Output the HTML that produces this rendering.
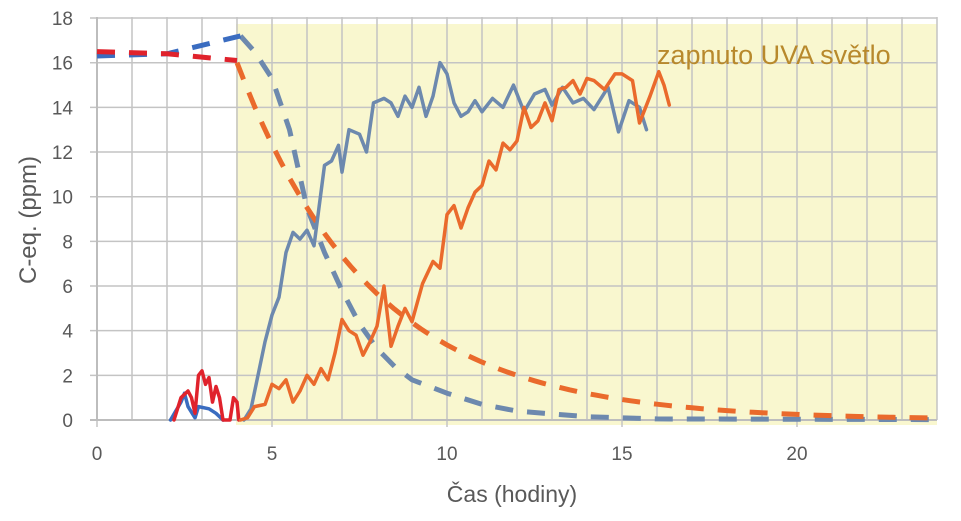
<!DOCTYPE html>
<html><head><meta charset="utf-8"><style>
html,body{margin:0;padding:0;background:#fff;width:961px;height:521px;overflow:hidden}
svg text{font-family:"Liberation Sans",sans-serif;fill:#595959}
</style></head><body>
<svg id="s" width="961" height="521" xmlns="http://www.w3.org/2000/svg">
<rect x="236" y="24" width="701" height="401" fill="#f9f7cf"/>
<g id="grid" stroke="#c4c4c4" stroke-width="1.5"></g>
<line x1="90" y1="420" x2="937" y2="420" stroke="#bdbdbd" stroke-width="2"/>
<line x1="97" y1="17" x2="97" y2="420" stroke="#bdbdbd" stroke-width="2"/>
<g id="series" fill="none" stroke-linejoin="round" stroke-linecap="round"></g>
<g font-size="19" text-anchor="end" id="yl"></g>
<g font-size="19" text-anchor="middle" id="xl"></g>
<text x="512" y="502" font-size="23" text-anchor="middle">Čas (hodiny)</text>
<text transform="translate(36,220) rotate(-90)" font-size="24" text-anchor="middle">C-eq. (ppm)</text>
<text x="657" y="64" font-size="27" style="fill:#b8892c">zapnuto UVA světlo</text>
</svg>
<script>
const X=t=>97+35*t, Y=v=>420-22.33*v;
const g=document.getElementById('grid');
let h='';
for(let i=1;i<=24;i++) h+=`<line x1="${X(i)}" y1="17" x2="${X(i)}" y2="420"/>`;
for(let v=2;v<=18;v+=2) h+=`<line x1="90" y1="${Y(v)}" x2="937" y2="${Y(v)}"/>`;
for(let i=0;i<=20;i+=5) h+=`<line x1="${X(i)}" y1="420" x2="${X(i)}" y2="427"/>`;
g.innerHTML=h;
let yl='';for(let v=0;v<=18;v+=2) yl+=`<text x="73" y="${Y(v)+7}">${v}</text>`;
document.getElementById('yl').innerHTML=yl;
let xl='';for(let i=0;i<=20;i+=5) xl+=`<text x="${X(i)}" y="460">${i}</text>`;
document.getElementById('xl').innerHTML=xl;
function P(a){return a.map((p,i)=>(i?'L':'M')+X(p[0]).toFixed(1)+','+Y(p[1]).toFixed(1)).join(' ');}
function pairs(s){const n=s.split(/[ ,]+/).map(Number);const r=[];for(let i=0;i<n.length;i+=2)r.push([n[i],n[i+1]]);return r;}
const bg=pairs("4.2 0,4.4 0.5,4.6 2,4.8 3.5,5 4.7,5.2 5.5,5.4 7.5,5.6 8.4,5.8 8.1,6 8.5,6.2 7.8,6.3 9,6.5 11.4,6.7 11.6,6.9 12.3,7 11.1,7.2 13,7.5 12.8,7.7 12,7.9 14.2,8.2 14.4,8.4 14.2,8.6 13.6,8.8 14.5,9 14,9.2 14.9,9.4 13.6,9.6 14.5,9.8 16,10 15.5,10.2 14.2,10.4 13.6,10.6 13.8,10.8 14.3,11 13.8,11.3 14.4,11.6 14,11.9 15,12.2 13.8,12.5 14.6,12.8 14.8,13 14.1,13.3 14.9,13.6 14.2,13.9 14.4,14.2 13.9,14.6 14.9,14.9 12.9,15.2 14.3,15.5 14,15.7 13");
const or=pairs("4.1 0,4.3 0.1,4.5 0.6,4.8 0.7,5 1.6,5.2 1.4,5.4 1.8,5.6 0.8,5.8 1.3,6 2,6.2 1.6,6.4 2.3,6.6 1.8,6.8 3,7 4.5,7.2 4,7.4 3.8,7.6 2.9,7.8 3.5,8 4.2,8.2 6,8.4 3.3,8.6 4.2,8.8 5,9 4.4,9.3 6.1,9.6 7.1,9.8 6.8,10 9.2,10.2 9.6,10.4 8.6,10.6 9.5,10.8 10.2,11 10.5,11.2 11.6,11.4 11.2,11.6 12.4,11.8 12.1,12 12.5,12.2 14,12.4 13.1,12.6 13.4,12.8 14.2,13 13.4,13.2 14.8,13.4 14.9,13.6 15.2,13.8 14.6,14 15.3,14.2 15.2,14.5 14.8,14.8 15.5,15 15.5,15.3 15.2,15.5 13.3,15.8 14.5,16.05 15.6,16.2 15,16.35 14.1");
const rd=pairs("2.2 0,2.4 1,2.6 1.3,2.7 1,2.8 0.3,2.9 2,3 2.2,3.1 1.6,3.2 1.9,3.3 0.8,3.4 1.5,3.5 1,3.6 0,3.8 0,3.9 1,4.0 0.8,4.05 0");
const bl=pairs("2.1 0,2.4 0.8,2.5 1.2,2.6 0.6,2.8 0.1,2.9 0.6,3.2 0.5,3.4 0.3,3.6 0");
const bd=pairs("0 16.3,2 16.4,4.1 17.2");
const bdec=pairs("4.1 17.2,4.5 16.5,5 15.3,5.5 13,6 9.5,6.5 7.5,7 5.8,7.5 4.3,8 3.2,8.5 2.4,9 1.8,10 1.2,11 0.7,12 0.4,14 0.15,16 0.05,24 0.02");
const rdd=pairs("0 16.5,2 16.4,4 16.1");
const od=[];for(let t=4;t<=24;t+=0.25)od.push([t,16*Math.exp(-0.26*(t-4))]);
const s=[[bdec,'#6d89ae',5,'18 14'],[od,'#ea6a2c',5,'18 14'],[bd,'#3a6cc0',5,'18 14'],[rdd,'#e0222c',5,'18 14'],
[bl,'#3a6cc0',3.5,''],[rd,'#e0222c',3.5,''],[bg,'#6d89ae',3.5,''],[or,'#ea6a2c',3.5,'']];
document.getElementById('series').innerHTML=s.map(a=>`<path d="${P(a[0])}" stroke="${a[1]}" stroke-width="${a[2]}" ${a[3]?`stroke-dasharray="${a[3]}" stroke-linecap="butt"`:''}/>`).join('');
</script>
</body></html>
